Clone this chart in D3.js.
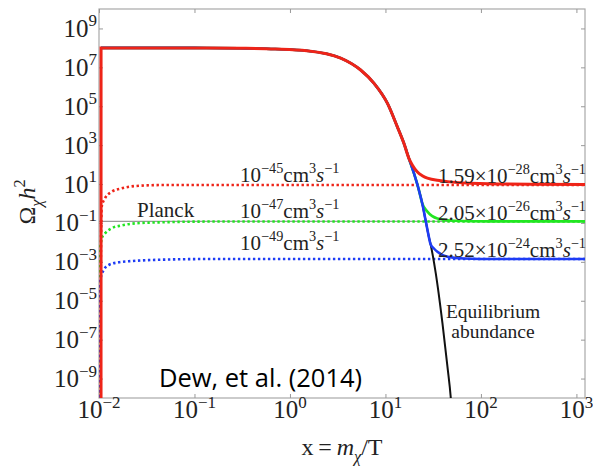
<!DOCTYPE html>
<html>
<head>
<meta charset="utf-8">
<script src="https://cdn.jsdelivr.net/npm/d3@7"></script>
<style>
  body { margin: 0; background: #fff; }
  svg { display: block; }
  .serif { font-family: "Liberation Serif", "DejaVu Serif", "Times New Roman", serif; }
  .sans { font-family: "Open Sans", "Noto Sans", sans-serif; }
</style>
</head>
<body>
<svg id="chart" width="593" height="466"></svg>
<script>
// ---- axis ticks ----
const xTickValues = [1e-2, 1e-1, 1e0, 1e1, 1e2, 1e3];
const xTickExps   = ["−2", "−1", "0", "1", "2", "3"];
const yTickValues = [1e9, 1e7, 1e5, 1e3, 1e1, 1e-1, 1e-3, 1e-5, 1e-7, 1e-9];
const yTickExps   = ["9", "7", "5", "3", "1", "−1", "−3", "−5", "−7", "−9"];

// ---- Planck relic density ----
const planckOmega = 0.12;

// ---- equilibrium abundance (x = m/T, Omega h^2) ----
const eqX = [0.0105, 0.1, 0.3, 0.7, 1.5, 3.4, 5.5, 7.6, 10.5, 13.3, 15.6, 17.6, 19.9, 22.4, 24.3, 26.3, 28.5, 29.7, 33.6, 39.5, 44.6, 48.2, 50];
const eqY = [1e8, 1e8, 9.6e7, 8.8e7, 7.2e7, 3.0e7, 7.3e6, 1.5e6, 1.4e5, 8.9e3, 1.25e3, 210, 35, 4.9, 1.0, 0.14, 0.019, 0.008, 2.7e-4, 7.2e-7, 4.1e-9, 1.2e-10, 1e-11];

// ---- thermal freeze-out (solid) ----
const redX   = [0.0105, 0.01051, 0.1, 0.3, 0.7, 1.5, 3.4, 5.5, 7.6, 10.5, 13.3, 15.6, 17.6, 19.1, 21.5, 24.3, 27.5, 38, 78, 330, 1230];
const redY   = [1e-11, 1e8, 1e8, 9.6e7, 8.8e7, 7.2e7, 3.0e7, 7.3e6, 1.5e6, 1.4e5, 8.9e3, 1.25e3, 210, 96, 43, 27, 20, 15, 11, 9.7, 9.5];
const greenX = [0.0105, 0.1, 0.3, 0.7, 1.5, 3.4, 5.5, 7.6, 10.5, 13.3, 15.6, 17.6, 19.9, 22.4, 24.3, 27.5, 35, 52, 120, 1230];
const greenY = [1e8, 1e8, 9.6e7, 8.8e7, 7.2e7, 3.0e7, 7.3e6, 1.5e6, 1.4e5, 8.9e3, 1.25e3, 210, 35, 4.9, 1.0, 0.38, 0.17, 0.13, 0.12, 0.12];
const blueX  = [0.0105, 0.1, 0.3, 0.7, 1.5, 3.4, 5.5, 7.6, 10.5, 13.3, 15.6, 17.6, 19.9, 22.4, 24.3, 26.3, 28.5, 29.7, 32, 35, 44.5, 66, 150, 1230];
const blueY  = [1e8, 1e8, 9.6e7, 8.8e7, 7.2e7, 3.0e7, 7.3e6, 1.5e6, 1.4e5, 8.9e3, 1.25e3, 210, 35, 4.9, 1.0, 0.14, 0.019, 0.008, 5e-3, 3.3e-3, 1.84e-3, 1.5e-3, 1.4e-3, 1.4e-3];
const freezeOutRates = ["1.59", "2.05", "2.52"];
const freezeOutExps  = ["−28", "−26", "−24"];

// ---- freeze-in (dotted) ----
const redInX   = [0.0102, 0.01067, 0.01156, 0.01359, 0.0173, 0.0239, 0.0455, 0.152, 1230];
const redInY   = [1e-11, 0.69, 1.85, 4.0, 6.0, 7.9, 8.9, 9.0, 9.0];
const greenInX = [0.01002, 0.0102, 0.01067, 0.01156, 0.01359, 0.0173, 0.0239, 0.0455, 0.152, 1230];
const greenInY = [1e-11, 2e-3, 0.016, 0.029, 0.053, 0.075, 0.095, 0.108, 0.118, 0.12];
const blueInX  = [0.01002, 0.01032, 0.0112, 0.01264, 0.0161, 0.0222, 0.036, 0.152, 1230];
const blueInY  = [1e-11, 1.17e-4, 3.8e-4, 6.9e-4, 9.5e-4, 1.1e-3, 1.25e-3, 1.4e-3, 1.4e-3];
const freezeInExps = ["−45", "−47", "−49"];

// ---- layout ----
const svg = d3.select("#chart");
const W = 593, H = 466;
const plot = { left: 99, right: 585, top: 9, bottom: 398 };

const x = d3.scaleLog().domain([0.01, 1230]).range([plot.left, plot.right]);
const y = d3.scaleLog().domain([1e-10, 1e10]).range([plot.bottom, plot.top]);

svg.append("rect").attr("width", W).attr("height", H).attr("fill", "#fff");

svg.append("defs").append("clipPath").attr("id", "plotClip")
  .append("rect")
  .attr("x", plot.left).attr("y", plot.top)
  .attr("width", plot.right - plot.left).attr("height", plot.bottom - plot.top);

// rich text helper: parts = [[text, kind]], kind in "", "sup", "sub", "it", "subit"
function rich(parent, px, py, parts, size, anchor, transform) {
  const t = parent.append("text")
    .attr("class", "serif")
    .attr("font-size", size)
    .attr("text-anchor", anchor || "start")
    .attr("fill", "#222");
  if (transform) t.attr("transform", transform);
  else t.attr("x", px).attr("y", py);
  let shift = 0;
  parts.forEach(([s, kind]) => {
    const small = kind === "sup" || kind === "sub" || kind === "subit";
    const target = kind === "sup" ? -size * 0.42 : (kind === "sub" || kind === "subit") ? size * 0.28 : 0;
    const ts = t.append("tspan").text(s).attr("dy", target - shift);
    if (small) ts.attr("font-size", size * 0.68);
    if (kind === "it" || kind === "subit") ts.attr("font-style", "italic");
    shift = target;
  });
  return t;
}

// ---- frame and ticks ----
svg.append("rect")
  .attr("x", plot.left).attr("y", plot.top)
  .attr("width", plot.right - plot.left).attr("height", plot.bottom - plot.top)
  .attr("fill", "none").attr("stroke", "#a8a8a8").attr("stroke-width", 1.2);

const axisBottom = d3.axisBottom(x).tickValues(xTickValues).tickSize(-4).tickFormat("");
const axisTop = d3.axisTop(x).tickValues(xTickValues).tickSize(-4).tickFormat("");
const axisLeft = d3.axisLeft(y).tickValues(yTickValues).tickSize(-4).tickFormat("");
const axisRight = d3.axisRight(y).tickValues(yTickValues).tickSize(-4).tickFormat("");
[[axisBottom, `translate(0,${plot.bottom})`], [axisTop, `translate(0,${plot.top})`],
 [axisLeft, `translate(${plot.left},0)`], [axisRight, `translate(${plot.right},0)`]].forEach(([ax, tr]) => {
  const g = svg.append("g").attr("transform", tr).call(ax);
  g.select(".domain").remove();
  g.selectAll(".tick line").attr("stroke", "#999").attr("stroke-width", 1);
});

// tick labels
const tickSize = 25;
xTickValues.forEach((v, i) => {
  rich(svg, x(v), 418, [["10", ""], [xTickExps[i], "sup"]], tickSize, "middle");
});
yTickValues.forEach((v, i) => {
  rich(svg, 97, y(v) + 8.5, [["10", ""], [yTickExps[i], "sup"]], tickSize, "end");
});

// axis titles
rich(svg, 342, 455, [["x\u2009=\u2009", ""], ["m", "it"], ["χ", "subit"], ["/T", ""]], 24, "middle");
rich(svg, 0, 0, [["Ω", ""], ["χ", "subit"], ["h", "it"], ["2", "sup"]], 24, "middle",
  "translate(35,202) rotate(-90)");

// ---- curves ----
const curves = svg.append("g").attr("clip-path", "url(#plotClip)");
const line = d3.line().x(d => x(d[0])).y(d => y(d[1])).curve(d3.curveMonotoneX);
const zipXY = (xs, ys) => xs.map((v, i) => [v, ys[i]]);

// Planck reference line
curves.append("line")
  .attr("x1", plot.left).attr("x2", plot.right)
  .attr("y1", y(planckOmega)).attr("y2", y(planckOmega))
  .attr("stroke", "#9a9a9a").attr("stroke-width", 1.2);

const red = "#ee2418", green = "#22e622", blue = "#1e3cf5";

[[redInX, redInY, red], [greenInX, greenInY, green], [blueInX, blueInY, blue]].forEach(([xs, ys, c]) => {
  curves.append("path")
    .attr("d", line(zipXY(xs, ys)))
    .attr("fill", "none").attr("stroke", c)
    .attr("stroke-width", 2.6).attr("stroke-dasharray", "2.4 2.6");
});

curves.append("path").attr("d", line(zipXY(eqX, eqY)))
  .attr("fill", "none").attr("stroke", "#111").attr("stroke-width", 2);
curves.append("path").attr("d", line(zipXY(greenX, greenY)))
  .attr("fill", "none").attr("stroke", green).attr("stroke-width", 2.6);
curves.append("path").attr("d", line(zipXY(blueX, blueY)))
  .attr("fill", "none").attr("stroke", blue).attr("stroke-width", 2.6);
curves.append("path").attr("d", line(zipXY(redX, redY)))
  .attr("fill", "none").attr("stroke", red).attr("stroke-width", 3);

// ---- annotations ----
const labelSize = 21;
rich(svg, 137, 217, [["Planck", ""]], labelSize, "start");

const leftBaselines = [182, 218, 250];
freezeInExps.forEach((e, i) => {
  rich(svg, 240, leftBaselines[i],
    [["10", ""], [e, "sup"], ["cm", ""], ["3", "sup"], ["s", "it"], ["−1", "sup"]], labelSize, "start");
});

const rightBaselines = [183, 220, 257];
freezeOutRates.forEach((r, i) => {
  rich(svg, 586, rightBaselines[i],
    [[r + "×10", ""], [freezeOutExps[i], "sup"], ["cm", ""], ["3", "sup"], ["s", "it"], ["−1", "sup"]], labelSize, "end");
});

rich(svg, 493, 318, [["Equilibrium", ""]], 19.5, "middle");
rich(svg, 493, 338, [["abundance", ""]], 19.5, "middle");

svg.append("text")
  .attr("class", "sans")
  .attr("x", 159).attr("y", 387)
  .attr("font-size", 25.5)
  .attr("fill", "#000")
  .text("Dew, et al. (2014)");
</script>
</body>
</html>
